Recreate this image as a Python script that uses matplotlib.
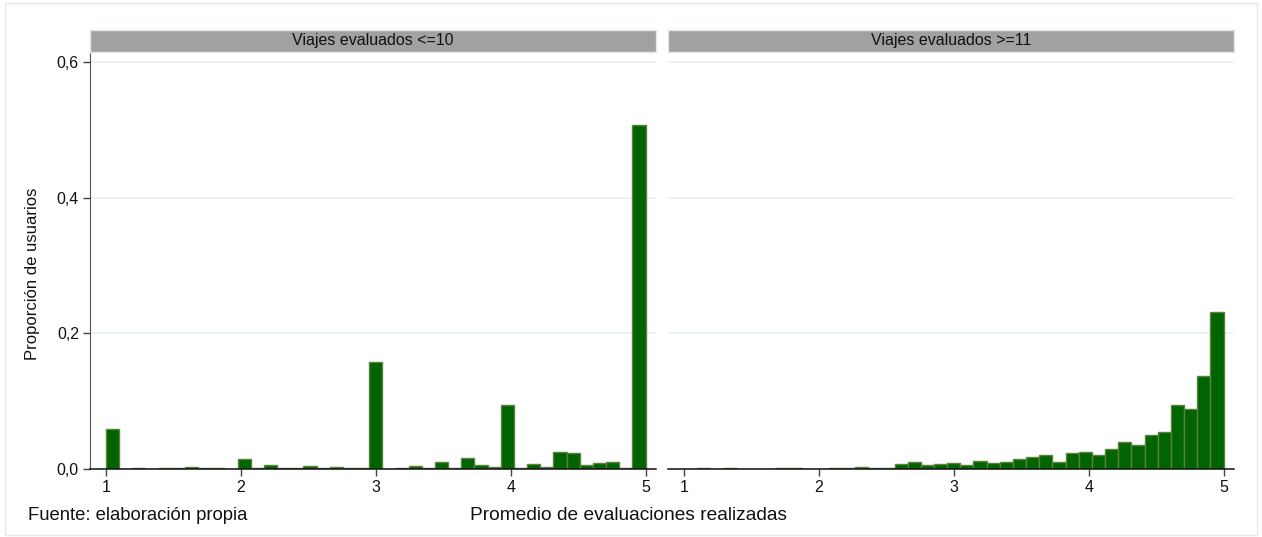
import numpy as np
import matplotlib.pyplot as plt
from matplotlib.patches import Rectangle

plt.rcParams['font.family'] = ['Liberation Sans', 'DejaVu Sans']

# 41 bins of equal width between 1 and 5 (same bins in both panels)
bin_edges = np.linspace(1, 5, 42)

# share of users per bin, trips rated <= 10
prop_low = [0.059, 0.0, 0.001, 0.0, 0.0012, 0.002, 0.003, 0.0012, 0.0015, 0.0,
            0.015, 0.001, 0.006, 0.001, 0.001, 0.004, 0.001, 0.003, 0.001, 0.001,
            0.158, 0.0005, 0.001, 0.004, 0.002, 0.010, 0.001, 0.016, 0.006, 0.003,
            0.095, 0.001, 0.008, 0.003, 0.025, 0.023, 0.0065, 0.0085, 0.011, 0.002,
            0.508]

# share of users per bin, trips rated >= 11
prop_high = [0.0, 0.001, 0.0, 0.001, 0.0, 0.0, 0.0, 0.0015, 0.001, 0.0,
             0.0, 0.0015, 0.001, 0.003, 0.0015, 0.001, 0.007, 0.011, 0.0065, 0.007,
             0.009, 0.0055, 0.012, 0.0095, 0.010, 0.015, 0.017, 0.021, 0.011, 0.023,
             0.025, 0.020, 0.030, 0.0395, 0.036, 0.050, 0.055, 0.095, 0.089, 0.137,
             0.232]

panel_titles = ['Viajes evaluados <=10', 'Viajes evaluados >=11']
xticks = [1, 2, 3, 4, 5]
yticks = [0.0, 0.2, 0.4, 0.6]
ytick_labels = ['0,0', '0,2', '0,4', '0,6']

W, H = 1262, 537
fig = plt.figure(figsize=(W / 100, H / 100), dpi=100)
fig.patch.set_facecolor('white')

# thin light frame round the whole graph
fig.add_artist(Rectangle((5 / W, 2 / H), 1252 / W, 532 / H, transform=fig.transFigure,
                         fill=False, edgecolor='#E3EAEC', lw=1))

def px(x0, y0, x1, y1):
    # pixel box (top-left origin) -> figure fraction rect
    return [x0 / W, (H - y1) / H, (x1 - x0) / W, (y1 - y0) / H]

fs = 11.5
panels = [(90, prop_low), (668, prop_high)]
for i, (left, props) in enumerate(panels):
    ax = fig.add_axes(px(left, 53, left + 566, 469))
    ax.bar(bin_edges[:-1], props, width=np.diff(bin_edges), align='edge',
           color='#006400', edgecolor='#5B8040', linewidth=1.0, zorder=3)
    ax.set_xlim(0.8814, 5.0778)
    ax.set_ylim(0, 0.6137)
    ax.set_yticks(yticks)
    ax.yaxis.grid(True, color='#E8F0F1', lw=1.2, zorder=0)
    ax.set_xticks(xticks)
    ax.set_xticklabels([str(t) for t in xticks], fontsize=fs, color='#111111')
    ax.tick_params(axis='x', length=5, width=1, color='#444444', pad=3)
    for s in ['top', 'right']:
        ax.spines[s].set_visible(False)
    ax.spines['bottom'].set_color('#111111')
    ax.spines['bottom'].set_linewidth(1.1)
    ax.spines['bottom'].set_zorder(4)
    if i == 0:
        ax.set_yticklabels(ytick_labels, fontsize=fs, color='#111111')
        ax.tick_params(axis='y', length=5, width=1, color='#444444', pad=3)
        ax.spines['left'].set_color('#555555')
    else:
        ax.spines['left'].set_visible(False)
        ax.tick_params(axis='y', length=0, labelleft=False)

    # grey title strip above each panel
    sax = fig.add_axes(px(left, 30, left + 566, 52))
    sax.set_facecolor('#A1A1A1')
    sax.set_xticks([])
    sax.set_yticks([])
    for s in sax.spines.values():
        s.set_color('#E0E8EA')
        s.set_linewidth(1)
    sax.text(0.5, 0.5, panel_titles[i], ha='center', va='center', fontsize=fs,
             color='#111111', transform=sax.transAxes)

fig.text(33 / W, 1 - 274 / H, 'Proporción de usuarios', rotation=90, ha='center',
         va='center', fontsize=12, color='#111111')
fig.text(628 / W, 1 - 515 / H, 'Promedio de evaluaciones realizadas', ha='center',
         va='center', fontsize=13.8, color='#111111')
fig.text(28 / W, 1 - 515 / H, 'Fuente: elaboración propia', ha='left',
         va='center', fontsize=13.3, color='#111111')

fig.savefig('out.png', dpi=100)
